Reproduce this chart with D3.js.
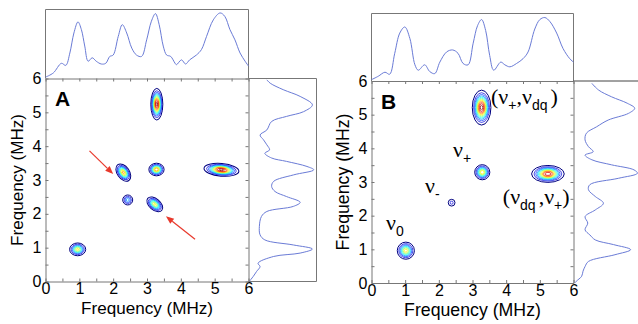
<!DOCTYPE html>
<html>
<head>
<meta charset="utf-8">
<script src="https://cdn.jsdelivr.net/npm/d3@7"></script>
<style>
  body { margin: 0; background: #fff; }
  svg { display: block; }
</style>
</head>
<body>
<svg id="chart" width="638" height="324"></svg>
<script>
// ---- data (frequencies in MHz, intensities relative) ----
const tickValues = d3.range(0, 6.01, 0.5);
const contourLevels = d3.range(12).map(i => 0.08 + i * 0.08);

// 1D projections: [frequency, intensity]
const projTopA = [[0,0.02],[0.23,0.08],[0.47,0.22],[0.6,0.19],[0.72,0.37],[0.84,0.66],[0.96,0.82],[1.06,0.71],
  [1.16,0.47],[1.26,0.25],[1.38,0.3],[1.5,0.25],[1.65,0.21],[1.78,0.22],[1.9,0.32],[2.0,0.34],[2.15,0.61],
  [2.27,0.78],[2.4,0.66],[2.55,0.44],[2.69,0.34],[2.84,0.32],[2.99,0.56],[3.13,0.83],[3.25,0.94],[3.36,0.78],
  [3.48,0.47],[3.58,0.34],[3.7,0.32],[3.83,0.22],[3.87,0.2],[4.02,0.27],[4.14,0.21],[4.26,0.27],[4.46,0.34],
  [4.61,0.42],[4.76,0.61],[4.96,0.85],[5.16,0.95],[5.3,0.9],[5.45,0.71],[5.6,0.56],[5.75,0.37],[5.9,0.25],[6.0,0.18]];
const projRightA = [[0,0.01],[0.15,0.07],[0.3,0.12],[0.44,0.17],[0.54,0.14],[0.74,0.37],[0.84,0.76],[0.96,0.94],
  [1.08,0.66],[1.23,0.24],[1.38,0.17],[1.63,0.16],[1.92,0.19],[2.07,0.27],[2.22,0.66],[2.34,0.76],[2.51,0.56],
  [2.66,0.39],[2.81,0.34],[2.96,0.37],[3.15,0.66],[3.3,0.96],[3.4,0.86],[3.55,0.56],[3.65,0.34],[3.79,0.24],
  [3.89,0.31],[4.04,0.27],[4.19,0.22],[4.33,0.17],[4.48,0.27],[4.73,0.34],[4.88,0.56],[5.02,0.81],[5.22,0.94],
  [5.47,0.76],[5.67,0.51],[5.86,0.32],[5.96,0.27]];
const projTopB = [[0,0.02],[0.2,0.07],[0.4,0.13],[0.54,0.1],[0.69,0.41],[0.84,0.71],[0.99,0.8],[1.14,0.63],
  [1.29,0.24],[1.39,0.16],[1.58,0.24],[1.73,0.14],[1.88,0.11],[2.03,0.28],[2.23,0.43],[2.41,0.46],[2.57,0.41],
  [2.72,0.26],[2.87,0.24],[3.02,0.56],[3.15,0.82],[3.27,0.91],[3.39,0.75],[3.51,0.38],[3.63,0.16],[3.84,0.28],
  [3.96,0.24],[4.11,0.21],[4.31,0.26],[4.5,0.33],[4.65,0.43],[4.85,0.77],[5.0,0.91],[5.15,0.94],[5.3,0.88],
  [5.5,0.71],[5.69,0.48],[5.89,0.33],[6.0,0.28]];
const projRightB = [[0,0.02],[0.05,0.04],[0.2,0.12],[0.35,0.14],[0.49,0.17],[0.64,0.22],[0.84,0.61],[0.99,0.84],
  [1.14,0.59],[1.28,0.32],[1.43,0.24],[1.58,0.17],[1.78,0.21],[1.97,0.17],[2.17,0.32],[2.37,0.44],[2.57,0.32],
  [2.77,0.22],[2.92,0.24],[3.11,0.66],[3.26,0.94],[3.36,0.89],[3.51,0.56],[3.66,0.27],[3.8,0.17],[3.9,0.29],
  [4.05,0.22],[4.25,0.17],[4.45,0.19],[4.64,0.34],[4.84,0.51],[5.04,0.81],[5.19,0.9],[5.34,0.79],[5.53,0.56],
  [5.73,0.37],[5.93,0.27]];

// 2D cross peaks: centre (MHz), widths along/across tilt axis (MHz), tilt (deg), relative height
const peaksA = [
  { x: 0.95, y: 0.95, sa: 0.116, sb: 0.092, rot: 0,   amp: 0.66 },
  { x: 2.30, y: 3.22, sa: 0.135, sb: 0.085, rot: -55, amp: 0.75 },
  { x: 3.28, y: 3.31, sa: 0.105, sb: 0.087, rot: 0,   amp: 0.8 },
  { x: 3.29, y: 5.24, sa: 0.079, sb: 0.208, rot: 0,   amp: 1.0 },
  { x: 5.20, y: 3.30, sa: 0.230, sb: 0.083, rot: -5,  amp: 1.0 },
  { x: 2.43, y: 2.41, sa: 0.085, sb: 0.085, rot: 0,   amp: 0.36 },
  { x: 3.23, y: 2.28, sa: 0.133, sb: 0.081, rot: -40, amp: 0.66 }
];
const peaksB = [
  { x: 1.02, y: 0.96, sa: 0.123, sb: 0.123, rot: 0, amp: 0.68 },
  { x: 2.38, y: 2.385, sa: 0.076, sb: 0.076, rot: 0, amp: 0.19 },
  { x: 3.29, y: 3.29, sa: 0.107, sb: 0.107, rot: 0, amp: 0.72 },
  { x: 3.27, y: 5.21, sa: 0.123, sb: 0.231, rot: 0, amp: 1.0 },
  { x: 5.24, y: 3.24, sa: 0.218, sb: 0.113, rot: 0, amp: 0.95 }
];

const arrowsA = [
  { from: [1.30, 3.86], to: [2.00, 3.18] },
  { from: [4.42, 1.25], to: [3.56, 1.93] }
];

// annotation text pieces: [text, "sub" | "", extra gap before]
const labelsB = [
  { x: 3.55, y: 5.32, parts: [["(", ""], ["ν", ""], ["+", "sub"], [",", ""], ["ν", ""], ["dq", "sub"], [")", "", 3]] },
  { x: 3.90, y: 2.35, parts: [["(", ""], ["ν", ""], ["dq", "sub"], [",", "", 3], ["ν", ""], ["+", "sub"], [")", ""]] },
  { x: 2.42, y: 3.74, parts: [["ν", ""], ["+", "sub"]] },
  { x: 1.59, y: 2.67, parts: [["ν", ""], ["-", "sub"]] },
  { x: 0.43, y: 1.57, parts: [["ν", ""], ["0", "sub"]] }
];

// ---- layout ----
const panels = [
  { name: "A", left: 45.5, right: 248.5, top: 78.5, bottom: 281.5, boxTop: 9.5, boxRight: 316.5, rightBorder: true,
    titleW: 132, projTop: projTopA, projRight: projRightA, peaks: peaksA, arrows: arrowsA, labels: [] },
  { name: "B", left: 371.5, right: 573.5, top: 81, bottom: 283, boxTop: 13.5, boxRight: 640, rightBorder: false,
    titleW: 137, projTop: projTopB, projRight: projRightB, peaks: peaksB, arrows: [], labels: labelsB }
];

const SANS = '"Liberation Sans", Arial, sans-serif';
const SERIF = '"Liberation Serif", "Times New Roman", serif';
const svg = d3.select("#chart");
const frameColor = "#777";
const curveColor = "#6a7bd6";

function jet(t) {
  const c = v => Math.max(0, Math.min(1, v));
  return d3.rgb(255 * c(1.5 - Math.abs(4 * t - 3)), 255 * c(1.5 - Math.abs(4 * t - 2)), 255 * c(1.5 - Math.abs(4 * t - 1))).formatHex();
}

// scale font so the rendered text takes the given width
function fitWidth(sel, w) {
  const len = sel.node().getComputedTextLength();
  sel.style("font-size", (parseFloat(sel.style("font-size")) * w / len) + "px");
}

panels.forEach(p => {
  const x = d3.scaleLinear().domain([0, 6]).range([p.left, p.right]);
  const y = d3.scaleLinear().domain([0, 6]).range([p.bottom, p.top]);
  const ty = d3.scaleLinear().domain([0, 1]).range([p.top, p.boxTop]);
  const rx = d3.scaleLinear().domain([0, 1]).range([p.right, p.right + 68]);
  const g = svg.append("g");

  // projection boxes
  g.append("path")
    .attr("d", `M${p.left},${p.top}V${p.boxTop}H${p.right}V${p.top}`)
    .attr("fill", "none").attr("stroke", frameColor);
  g.append("path")
    .attr("d", p.rightBorder
      ? `M${p.right},${p.top}H${p.boxRight}V${p.bottom}H${p.right}`
      : `M${p.right},${p.top}H${p.boxRight}`)
    .attr("fill", "none").attr("stroke", p.rightBorder ? frameColor : "#444");

  g.append("path")
    .datum(p.projTop)
    .attr("fill", "none").attr("stroke", curveColor).attr("stroke-width", 1)
    .attr("d", d3.line().x(d => x(d[0])).y(d => ty(d[1])).curve(d3.curveCatmullRom));
  g.append("path")
    .datum(p.projRight)
    .attr("fill", "none").attr("stroke", curveColor).attr("stroke-width", 1)
    .attr("d", d3.line().x(d => rx(d[1])).y(d => y(d[0])).curve(d3.curveCatmullRom));

  // contours (Gaussian cross peaks, one ring per level)
  const k = x(1) - x(0);
  const cg = g.append("g");
  p.peaks.forEach(pk => {
    const rings = contourLevels.map((L, i) => ({ L, i })).filter(d => d.L < pk.amp);
    cg.append("g")
      .attr("transform", `translate(${x(pk.x)},${y(pk.y)}) rotate(${-pk.rot})`)
      .selectAll("ellipse").data(rings).join("ellipse")
      .attr("rx", d => Math.sqrt(2 * Math.log(pk.amp / d.L)) * pk.sa * k)
      .attr("ry", d => Math.sqrt(2 * Math.log(pk.amp / d.L)) * pk.sb * k)
      .attr("fill", "none")
      .attr("stroke", d => jet(d.i / (contourLevels.length - 1)))
      .attr("stroke-width", d => d.i === 0 ? 1.0 : 0.7);
  });

  // axes: ticks on all four sides, pointing inward
  const fmt = d => Number.isInteger(d) ? d : "";
  const styleAxis = a => {
    a.selectAll("path, line").attr("stroke", frameColor);
    a.selectAll("text").style("font-size", "16px").style("font-family", SANS).attr("fill", "#000");
  };
  g.append("g").attr("transform", `translate(0,${p.bottom})`)
    .call(d3.axisBottom(x).tickValues(tickValues).tickSizeInner(-3).tickSizeOuter(0).tickPadding(1.5).tickFormat(fmt))
    .call(styleAxis);
  g.append("g").attr("transform", `translate(${p.left},0)`)
    .call(d3.axisLeft(y).tickValues(tickValues).tickSizeInner(-3).tickSizeOuter(0).tickPadding(4).tickFormat(fmt))
    .call(styleAxis);
  g.append("g").attr("transform", `translate(0,${p.top})`)
    .call(d3.axisTop(x).tickValues(tickValues).tickSizeInner(-3).tickSizeOuter(0).tickFormat(""))
    .call(styleAxis);
  g.append("g").attr("transform", `translate(${p.right},0)`)
    .call(d3.axisRight(y).tickValues(tickValues).tickSizeInner(-3).tickSizeOuter(0).tickFormat(""))
    .call(styleAxis);
  g.selectAll(".domain").attr("stroke", frameColor);

  // axis titles
  const xt = g.append("text")
    .attr("x", (p.left + p.right) / 2).attr("y", p.bottom + 32.5)
    .attr("text-anchor", "middle").style("font-family", SANS).style("font-size", "17px")
    .text("Frequency (MHz)");
  fitWidth(xt, p.titleW);
  const yt = g.append("text")
    .attr("transform", `translate(${p.left - 22.5},${(p.top + p.bottom) / 2}) rotate(-90)`)
    .attr("text-anchor", "middle").style("font-family", SANS).style("font-size", "17px")
    .text("Frequency (MHz)");
  fitWidth(yt, p.titleW);

  // panel letter
  g.append("text")
    .attr("x", p.left + 9.5).attr("y", p.top + 27.5)
    .style("font-family", SANS).style("font-size", "21px").style("font-weight", "bold")
    .text(p.name);

  // arrows
  p.arrows.forEach(a => {
    const x0 = x(a.from[0]), y0 = y(a.from[1]), x1 = x(a.to[0]), y1 = y(a.to[1]);
    const ang = Math.atan2(y1 - y0, x1 - x0);
    const hl = 8, hw = 3.2;
    const bx = x1 - hl * Math.cos(ang), by = y1 - hl * Math.sin(ang);
    g.append("line").attr("x1", x0).attr("y1", y0).attr("x2", bx).attr("y2", by)
      .attr("stroke", "#e8392c").attr("stroke-width", 1.2);
    g.append("path")
      .attr("d", `M${x1},${y1}L${bx + hw * Math.sin(ang)},${by - hw * Math.cos(ang)}L${bx - hw * Math.sin(ang)},${by + hw * Math.cos(ang)}Z`)
      .attr("fill", "#e8392c");
  });

  // peak annotations
  p.labels.forEach(lb => {
    const t = g.append("text").attr("x", x(lb.x)).attr("y", y(lb.y))
      .style("font-family", SERIF).style("font-size", "22px");
    let shift = 0;
    lb.parts.forEach(([s, kind, gap]) => {
      const ts = t.append("tspan").text(s);
      const want = kind === "sub" ? 6 : 0;
      if (want !== shift) { ts.attr("dy", want - shift); shift = want; }
      if (gap) ts.attr("dx", gap);
      if (kind === "sub") ts.style("font-size", "14px").style("font-family", SANS);
    });
  });
});
</script>
</body>
</html>
